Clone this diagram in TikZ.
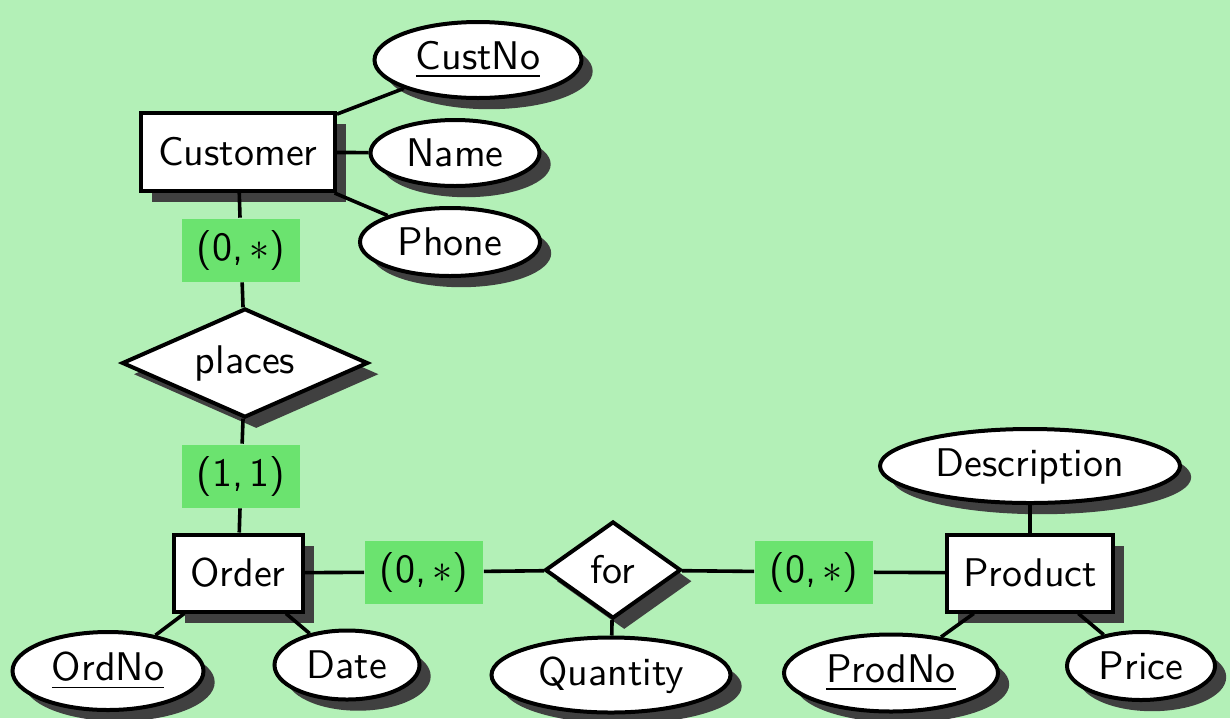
\documentclass[tikz,border=0pt]{standalone}
\usetikzlibrary{shapes.geometric,shadows}
\definecolor{bg}{HTML}{B3F0B7}
\definecolor{lab}{HTML}{6BE36F}
\definecolor{shd}{HTML}{404040}
\begin{document}
\begin{tikzpicture}[x=0.25pt,y=-0.25pt, font=\sffamily,
  shad/.style={drop shadow={shadow xshift=2.8pt, shadow yshift=-2.8pt, fill=shd, opacity=1}},
  entity/.style={draw, line width=1pt, fill=white, rectangle, inner sep=0pt, shad},
  attr/.style={draw, line width=1pt, fill=white, ellipse, inner sep=0pt, shad},
  rel/.style={draw, line width=1pt, fill=white, diamond, inner sep=0pt, shad},
  card/.style={fill=lab, inner sep=0pt, minimum width=29.5pt, minimum height=15.75pt},
  conn/.style={line width=0.9pt}]
\fill[bg] (0,0) rectangle (1230,718);
\useasboundingbox (0,0) rectangle (1230,718);
% entities
\node[entity, minimum width=48.5pt, minimum height=19.5pt] (cust) at (238,152) {Customer};
\node[entity, minimum width=32.25pt, minimum height=19.25pt] (order) at (238,573) {Order};
\node[entity, minimum width=41.5pt, minimum height=19.25pt] (prod) at (1030,573) {Product};
% relationships
\node[rel, shape aspect=2.26, minimum width=61.5pt, minimum height=27.25pt] (places) at (245,363) {places};
\node[rel, shape aspect=1.4, minimum width=34pt, minimum height=24.25pt] (for) at (613,570) {for};
% attributes
\node[attr, minimum width=51.75pt, minimum height=19pt] (custno) at (478,60) {\underline{CustNo}};
\node[attr, minimum width=42.25pt, minimum height=16.5pt] (name) at (455,153) {Name};
\node[attr, minimum width=45pt, minimum height=17pt] (phone) at (450,242) {Phone};
\node[attr, minimum width=47.75pt, minimum height=19.5pt] (ordno) at (108,671) {\underline{OrdNo}};
\node[attr, minimum width=36.25pt, minimum height=17.25pt] (date) at (347,665) {Date};
\node[attr, minimum width=59.75pt, minimum height=18.75pt] (qty) at (611,675) {Quantity};
\node[attr, minimum width=75pt, minimum height=18.5pt] (desc) at (1030,466) {Description};
\node[attr, minimum width=53.5pt, minimum height=19.25pt] (prodno) at (891,673) {\underline{ProdNo}};
\node[attr, minimum width=37pt, minimum height=17pt] (price) at (1141,666) {Price};
% cardinalities
\node[card] (c1) at (241,250) {(0,\,$\ast$)};
\node[card] (c2) at (241,476) {(1,\,1)};
\node[card] (c3) at (424,572) {(0,\,$\ast$)};
\node[card] (c4) at (814,572) {(0,\,$\ast$)};
% connectors
\draw[conn] (cust) -- (custno);
\draw[conn] (cust) -- (name);
\draw[conn] (cust) -- (phone);
\draw[conn] (cust) -- (c1);
\draw[conn] (c1) -- (places);
\draw[conn] (places) -- (c2);
\draw[conn] (c2) -- (order);
\draw[conn] (order) -- (ordno);
\draw[conn] (order) -- (date);
\draw[conn] (order) -- (c3);
\draw[conn] (c3) -- (for);
\draw[conn] (for) -- (c4);
\draw[conn] (c4) -- (prod);
\draw[conn] (for) -- (qty);
\draw[conn] (prod) -- (desc);
\draw[conn] (prod) -- (prodno);
\draw[conn] (prod) -- (price);
\end{tikzpicture}
\end{document}
